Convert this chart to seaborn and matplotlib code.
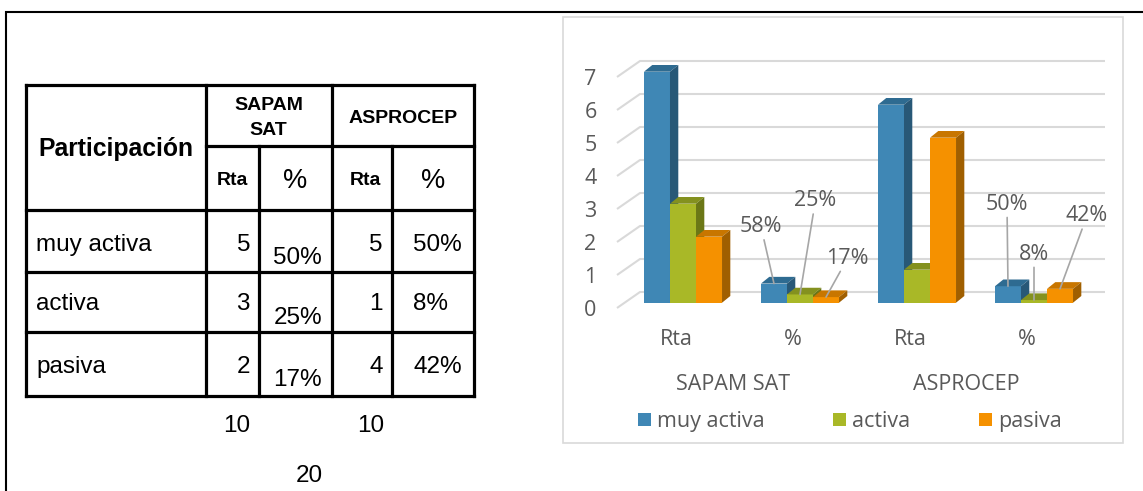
import numpy as np
import pandas as pd
import matplotlib
matplotlib.use("Agg")
import matplotlib.pyplot as plt
import matplotlib.transforms as mtransforms
from matplotlib.patches import Polygon, Rectangle, Patch
import seaborn as sns

# ---------------- data ----------------
groups = ["SAPAM SAT", "ASPROCEP"]
measures = ["Rta", "%"]
series = ["muy activa", "activa", "pasiva"]
muy_activa = [7, 0.58, 6, 0.50]
activa = [3, 0.25, 1, 0.08]
pasiva = [2, 0.17, 5, 0.42]
y_ticks = [0, 1, 2, 3, 4, 5, 6, 7]

table_rows = ["muy activa", "activa", "pasiva"]
sapam_rta = [5, 3, 2]
sapam_pct = ["50%", "25%", "17%"]
asp_rta = [5, 1, 4]
asp_pct = ["50%", "8%", "42%"]
sapam_total = 10
asp_total = 10
grand_total = 20

# ---------------- styles ----------------
front_cols = ["#3F87B5", "#A9B827", "#F59100"]
top_cols = ["#2E6B91", "#84911F", "#C87600"]
side_cols = ["#285877", "#6B7716", "#A05F00"]
grid_col = "#D9D9D9"
txt_col = "#595959"
CF = "Open Sans"
TF = "Liberation Sans"
CFS = 15.5

W, H = 1143, 491
fig = plt.figure(figsize=(W / 100, H / 100), dpi=100)

# background axes in pixel coordinates
bg = fig.add_axes([0, 0, 1, 1])
bg.set_xlim(0, W)
bg.set_ylim(H, 0)
bg.axis("off")

# outer frame
bg.plot([6, 6, W], [H, 11.5, 11.5], color="black", lw=1.5, solid_joinstyle="miter")
# chart frame
bg.add_patch(Rectangle((563, 17), 560, 426, fill=False, edgecolor=grid_col, lw=1.2))

# ---------------- table ----------------
xs = [26, 205.7, 259.3, 331.7, 392.3, 474]
tlw = 2.3
for yy in [85, 210, 271.7, 331.7, 396]:
    bg.plot([xs[0], xs[-1]], [yy, yy], color="black", lw=tlw, solid_capstyle="projecting")
bg.plot([xs[1], xs[-1]], [145.7, 145.7], color="black", lw=tlw)
for xx in [26, 205.7, 331.7, 474]:
    bg.plot([xx, xx], [85, 396], color="black", lw=tlw, solid_capstyle="projecting")
for xx in [259.3, 392.3]:
    bg.plot([xx, xx], [145.7, 396], color="black", lw=tlw)

bg.text(115.5, 156, "Participación", family=TF, fontsize=17.8, fontweight="bold",
        ha="center", va="baseline")
bg.text(268.7, 110, "SAPAM", family=TF, fontsize=14, fontweight="bold", ha="center", va="baseline")
bg.text(268.7, 135, "SAT", family=TF, fontsize=14, fontweight="bold", ha="center", va="baseline")
bg.text(403, 122.7, groups[1], family=TF, fontsize=14, fontweight="bold", ha="center", va="baseline")
for cx, lab in [(232.5, measures[0]), (365.5, measures[0])]:
    bg.text(cx, 185, lab, family=TF, fontsize=14, fontweight="bold", ha="center", va="baseline")
for cx in [295.5, 433]:
    bg.text(cx, 187.7, measures[1], family=TF, fontsize=19.5, ha="center", va="baseline")

row_base = [250.7, 310, 372.7]
for i, lab in enumerate(table_rows):
    b = row_base[i]
    bg.text(36, b, lab, family=TF, fontsize=17.5, ha="left", va="baseline")
    bg.text(250, b, str(sapam_rta[i]), family=TF, fontsize=17.5, ha="right", va="baseline")
    bg.text(322, b + 13.5, sapam_pct[i], family=TF, fontsize=17.5, ha="right", va="baseline")
    bg.text(383, b, str(asp_rta[i]), family=TF, fontsize=17.5, ha="right", va="baseline")
    bg.text(413, b, asp_pct[i], family=TF, fontsize=17.5, ha="left", va="baseline")
bg.text(237, 431.7, str(sapam_total), family=TF, fontsize=17.5, ha="center", va="baseline")
bg.text(371, 431.7, str(asp_total), family=TF, fontsize=17.5, ha="center", va="baseline")
bg.text(309, 481.7, str(grand_total), family=TF, fontsize=17.5, ha="center", va="baseline")

# ---------------- chart ----------------
cats = [f"{g}|{m}" for g in groups for m in measures]
df = pd.DataFrame({
    "cat": cats * 3,
    "serie": np.repeat(series, len(cats)),
    "value": muy_activa + activa + pasiva,
})

px_x, x0_px = 117.0, 683.0
px_y, y0_px = 33.0, 302.7
L, R, B, T = 600, 1112, 312, 50
xlim = ((L - x0_px) / px_x, (R - x0_px) / px_x)
ylim = (-(B - y0_px) / px_y, (y0_px - T) / px_y)

ax = fig.add_axes([L / W, 1 - B / H, (R - L) / W, (B - T) / H])
ax.patch.set_visible(False)
sns.barplot(data=df, x="cat", y="value", hue="serie", order=cats, hue_order=series,
            palette=front_cols, width=0.667, saturation=1, dodge=True,
            edgecolor="none", linewidth=0, legend=False, ax=ax, zorder=3)
ax.set_xlim(*xlim)
ax.set_ylim(*ylim)
for s in ax.spines.values():
    s.set_visible(False)
ax.set_xlabel("")
ax.set_ylabel("")

# 3D depth of bars
dx, dy = 8.3 / px_x, 6.7 / px_y
for hi, cont in enumerate(ax.containers):
    for p in cont.patches:
        x0 = p.get_x()
        w = p.get_width()
        h = p.get_height()
        z = 3 + hi * 0.1
        p.set_zorder(z)
        ax.add_patch(Polygon([(x0, h), (x0 + w, h), (x0 + w + dx, h + dy), (x0 + dx, h + dy)],
                             closed=True, facecolor=top_cols[hi], edgecolor="none", zorder=z))
        ax.add_patch(Polygon([(x0 + w, 0), (x0 + w + dx, dy), (x0 + w + dx, h + dy), (x0 + w, h)],
                             closed=True, facecolor=side_cols[hi], edgecolor="none", zorder=z))

# back-wall gridlines with diagonal floor ticks
back_off = 10.7 / px_y
front_off = -5.3 / px_y
xd0 = (617 - x0_px) / px_x
xb0 = (640 - x0_px) / px_x
xb1 = (1105 - x0_px) / px_x
for v in y_ticks:
    ax.plot([xd0, xb0, xb1], [v + front_off, v + back_off, v + back_off],
            color=grid_col, lw=1.5, zorder=1, solid_capstyle="butt")

ax.set_yticks([v + front_off for v in y_ticks])
ax.set_yticklabels([str(v) for v in y_ticks], fontsize=CFS, color=txt_col, family=CF)
ax.set_xticks([i - 0.06 for i in range(len(cats))])
ax.set_xticklabels([c.split("|")[1] for c in cats], fontsize=CFS, color=txt_col, family=CF)
ax.tick_params(axis="y", length=0, pad=2.5)
ax.tick_params(axis="x", length=0, pad=12.5)

# group labels
blend = mtransforms.blended_transform_factory(ax.transData, ax.transAxes)
for gi, g in enumerate(groups):
    ax.text(gi * 2 + 0.5 - 0.075, (B - 384) / (B - T), g, transform=blend,
            ha="center", va="center", fontsize=CFS, color=txt_col, family=CF)

# data labels with leader lines for the % bars
offsets = {
    (1, 0): (-13, 57), (1, 1): (15.4, 93.7), (1, 2): (21.7, 39),
    (3, 0): (-1, 82), (3, 1): (0, 46), (3, 2): (27, 73),
}
for hi, cont in enumerate(ax.containers):
    for ci, p in enumerate(cont.patches):
        if (ci, hi) not in offsets:
            continue
        h = p.get_height()
        xc = p.get_x() + p.get_width() / 2
        ax.annotate(f"{h:.0%}", xy=(xc, h), xytext=offsets[(ci, hi)],
                    textcoords="offset pixels", ha="center", va="center",
                    fontsize=CFS, color=txt_col, family=CF, zorder=6,
                    arrowprops=dict(arrowstyle="-", color="#A6A6A6", lw=1.2,
                                    shrinkA=0, shrinkB=0))

# legend
handles = [Patch(facecolor=c, edgecolor="none") for c in front_cols]
leg = fig.legend(handles, series, loc="center", bbox_to_anchor=(850 / W, 1 - 421.7 / H),
                 ncol=3, frameon=False, handlelength=0.6, handleheight=0.6,
                 handletextpad=0.28, columnspacing=3.2, prop={"family": CF, "size": CFS})
for t in leg.get_texts():
    t.set_color(txt_col)

fig.savefig("out.png", dpi=100)
